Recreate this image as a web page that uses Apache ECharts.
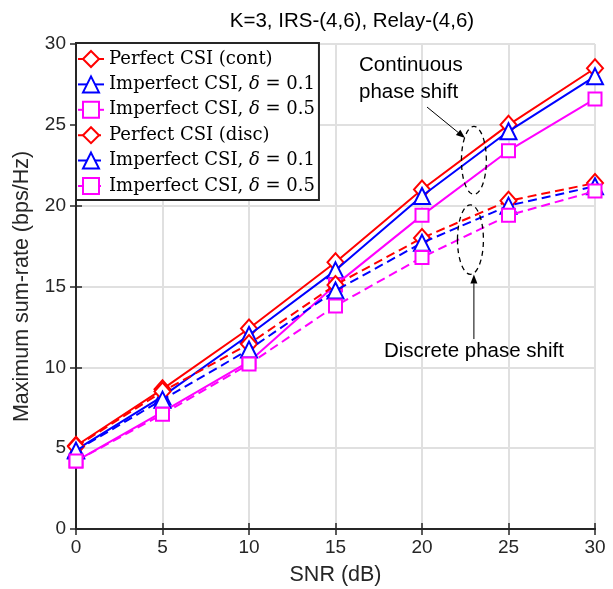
<!DOCTYPE html>
<html><head><meta charset="utf-8">
<script src="https://cdn.jsdelivr.net/npm/echarts@6/dist/echarts.min.js"></script>
<style>html,body{margin:0;padding:0;background:#fff}#c{width:613px;height:589px}</style>
</head><body><div id="c"></div>
<script>
const snr = [0, 5, 10, 15, 20, 25, 30];
const perfectCont = [5.15, 8.65, 12.4, 16.5, 21.0, 25.0, 28.5];
const imp01Cont = [4.9, 8.2, 12.0, 16.0, 20.6, 24.6, 28.0];
const imp05Cont = [4.2, 7.25, 10.35, 15.1, 19.4, 23.4, 26.6];
const perfectDisc = [5.1, 8.5, 11.45, 15.1, 18.0, 20.3, 21.4];
const imp01Disc = [4.85, 8.0, 11.1, 14.75, 17.7, 20.0, 21.2];
const imp05Disc = [4.2, 7.1, 10.2, 13.8, 16.8, 19.4, 20.9];
const xTicks = [0, 5, 10, 15, 20, 25, 30];
const yTicks = [0, 5, 10, 15, 20, 25, 30];
const legendLabels = ['Perfect CSI (cont)', 'Imperfect CSI, {i|δ} = 0.1', 'Imperfect CSI, {i|δ} = 0.5',
  'Perfect CSI (disc)', 'Imperfect CSI, {i|δ} = 0.1', 'Imperfect CSI, {i|δ} = 0.5'];
const seriesKeys = ['pc', 'i1c', 'i5c', 'pd', 'i1d', 'i5d'];

const RED = '#ff0000', BLUE = '#0000ff', MAG = '#ff00ff';
const defs = [
  [perfectCont, RED, 'diamond', 'solid'],
  [imp01Cont, BLUE, 'triangle', 'solid'],
  [imp05Cont, MAG, 'rect', 'solid'],
  [perfectDisc, RED, 'diamond', 'dashed'],
  [imp01Disc, BLUE, 'triangle', 'dashed'],
  [imp05Disc, MAG, 'rect', 'dashed']
];
const series = defs.map((d, k) => ({
  name: seriesKeys[k],
  type: 'line',
  data: snr.map((x, j) => [x, d[0][j]]),
  symbol: d[2],
  symbolSize: d[2] === 'rect' ? 13 : (d[2] === 'diamond' ? [16, 18] : 16),
  showAllSymbol: true,
  lineStyle: { color: d[1], width: 2, type: d[3] === 'dashed' ? [9, 5] : 'solid' },
  itemStyle: { color: '#fff', borderColor: d[1], borderWidth: 2 },
  emphasis: { disabled: true },
  z: 3 + k
}));

const SANS = 'Liberation Sans, Arial, sans-serif';
const axisFont = { fontFamily: SANS, fontSize: 19, color: '#262626' };
const chart = echarts.init(document.getElementById('c'), null, { renderer: 'canvas' });
chart.setOption({
  animation: false,
  backgroundColor: '#fff',
  title: {
    text: 'K=3, IRS-(4,6), Relay-(4,6)', left: 347, textAlign: 'center', top: 6,
    textStyle: { fontFamily: SANS, fontSize: 20.5, fontWeight: 'normal', color: '#000' }
  },
  grid: { left: 76, top: 44, right: 18, bottom: 60, containLabel: false, outerBoundsMode: 'none' },
  xAxis: [{
    type: 'value', min: 0, max: 30, interval: 5,
    name: 'SNR (dB)', nameLocation: 'middle', nameGap: 35,
    nameTextStyle: { fontFamily: SANS, fontSize: 21.5, color: '#262626' },
    axisLine: { lineStyle: { color: '#262626', width: 2 } },
    axisTick: { inside: true, length: 6, lineStyle: { color: '#262626', width: 1.5 } },
    axisLabel: Object.assign({ margin: 9, formatter: v => xTicks.includes(v) ? String(v) : '' }, axisFont),
    splitLine: { show: true, lineStyle: { color: '#e0e0e0', width: 2 } }
  }, {
    type: 'value', min: 0, max: 30, interval: 5, position: 'top',
    axisLine: { show: true, lineStyle: { color: '#262626', width: 2 } },
    axisTick: { inside: true, length: 6, lineStyle: { color: '#262626', width: 1.5 } },
    axisLabel: { show: false }, splitLine: { show: false }
  }],
  yAxis: [{
    type: 'value', min: 0, max: 30, interval: 5,
    name: 'Maximum sum-rate (bps/Hz)', nameLocation: 'middle', nameGap: 43,
    nameTextStyle: { fontFamily: SANS, fontSize: 21.5, color: '#262626' },
    axisLine: { show: true, lineStyle: { color: '#262626', width: 2 } },
    axisTick: { show: true, inside: true, length: 6, lineStyle: { color: '#262626', width: 1.5 } },
    axisLabel: Object.assign({ margin: 10, formatter: v => yTicks.includes(v) ? String(v) : '' }, axisFont),
    splitLine: { show: true, lineStyle: { color: '#e0e0e0', width: 2 } }
  }, {
    type: 'value', min: 0, max: 30, interval: 5, position: 'right',
    axisLine: { show: true, lineStyle: { color: '#262626', width: 2 } },
    axisTick: { show: true, inside: true, length: 6, lineStyle: { color: '#262626', width: 1.5 } },
    axisLabel: { show: false }, splitLine: { show: false }
  }],
  legend: {
    data: seriesKeys,
    orient: 'vertical', left: 76, top: 43,
    backgroundColor: '#fff', borderColor: '#262626', borderWidth: 2,
    padding: [6, 4, 4, 1], itemGap: 5.4, itemWidth: 26, itemHeight: 20,
    formatter: n => legendLabels[seriesKeys.indexOf(n)],
    textStyle: {
      fontFamily: 'DejaVu Serif, serif', fontSize: 18, lineHeight: 20, color: '#000',
      rich: { i: { fontStyle: 'italic', fontFamily: 'DejaVu Serif, serif', fontSize: 18, lineHeight: 20 } }
    },
    z: 20
  },
  series: series
});

// annotations (in data coordinates)
function P(x, y) { return chart.convertToPixel({ xAxisIndex: 0, yAxisIndex: 0 }, [x, y]); }
const contEll = { cx: 23.0, cy: 22.8, rx: 0.72, ry: 2.1 };
const discEll = { cx: 22.8, cy: 17.9, rx: 0.75, ry: 2.15 };
function ellipse(e) {
  const c = P(e.cx, e.cy), a = P(e.cx + e.rx, e.cy + e.ry);
  return { type: 'ellipse', shape: { cx: c[0], cy: c[1], rx: Math.abs(a[0] - c[0]), ry: Math.abs(a[1] - c[1]) },
    style: { fill: 'none', stroke: '#000', lineWidth: 1.3, lineDash: [5, 4] }, z: 30 };
}
function arrow(p0, p1) {
  const a = P(p0[0], p0[1]), b = P(p1[0], p1[1]);
  const ang = Math.atan2(b[1] - a[1], b[0] - a[0]);
  const L = 9, W = 3.5;
  const bx = b[0] - L * Math.cos(ang), by = b[1] - L * Math.sin(ang);
  return [
    { type: 'line', shape: { x1: a[0], y1: a[1], x2: bx, y2: by }, style: { stroke: '#000', lineWidth: 1 }, z: 30 },
    { type: 'polygon', shape: { points: [[b[0], b[1]], [bx + W * Math.sin(ang), by - W * Math.cos(ang)], [bx - W * Math.sin(ang), by + W * Math.cos(ang)]] },
      style: { fill: '#000' }, z: 30 }
  ];
}
const tCont = P(16.36, 27.83), tDisc = P(23.0, 11.0);
const txtStyle = { fontFamily: SANS, fontSize: 20.5, fill: '#000', lineHeight: 27 };
chart.setOption({
  graphic: [
    ellipse(contEll), ellipse(discEll),
    ...arrow([20.29, 26.1], [22.49, 24.18]),
    ...arrow([23.0, 11.75], [23.0, 15.75]),
    { type: 'text', x: tCont[0], y: tCont[1], style: Object.assign({ text: 'Continuous\nphase shift', align: 'left', verticalAlign: 'middle' }, txtStyle), z: 30 },
    { type: 'text', x: tDisc[0], y: tDisc[1], style: Object.assign({ text: 'Discrete phase shift', align: 'center', verticalAlign: 'middle' }, txtStyle), z: 30 }
  ]
});
</script></body></html>
